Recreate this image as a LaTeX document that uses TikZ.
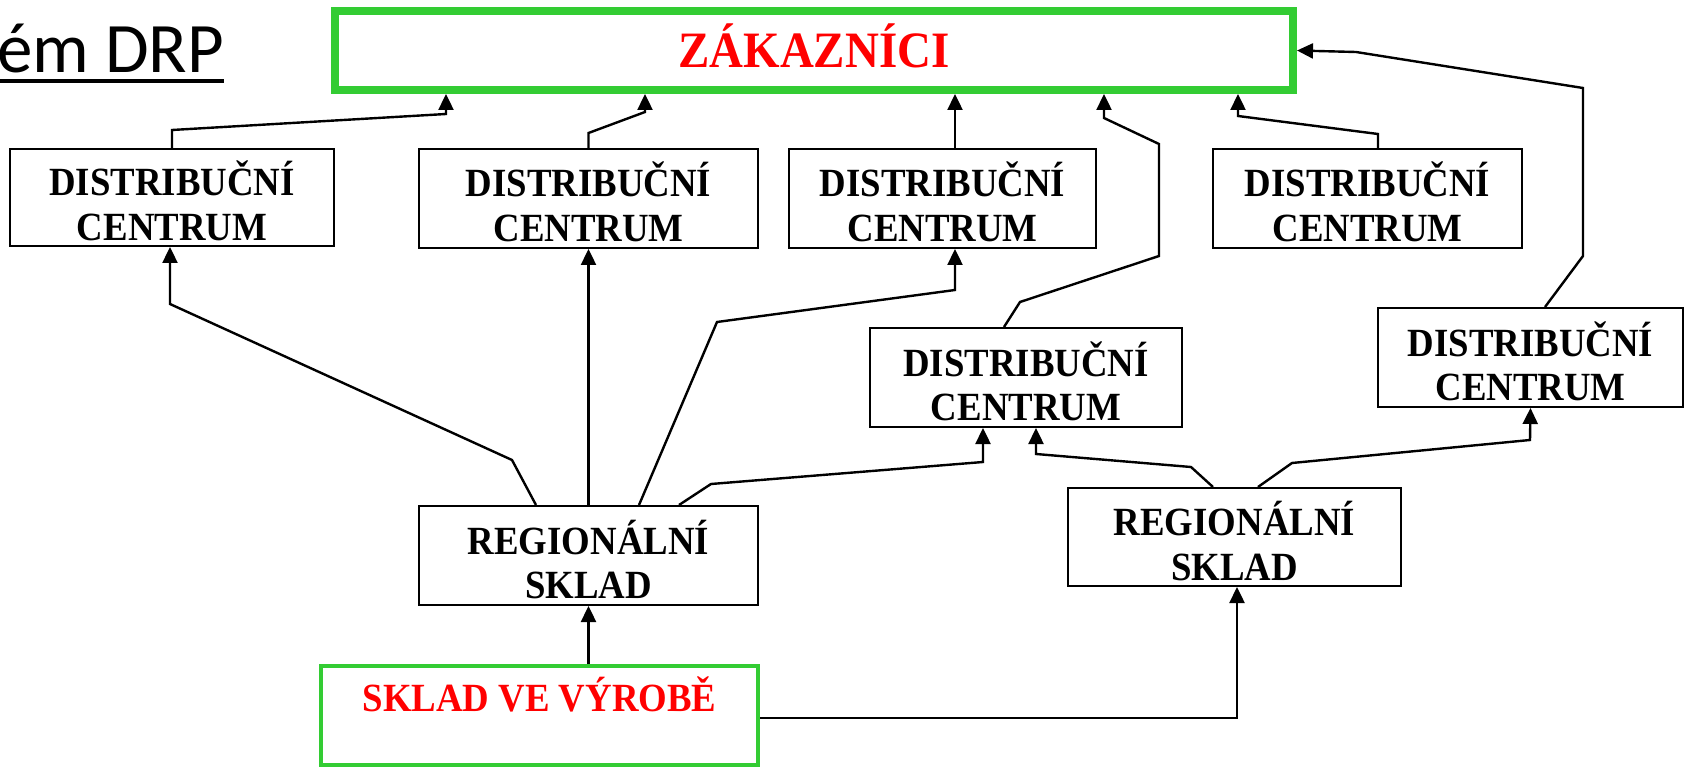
\documentclass[tikz,border=0pt]{standalone}
\usepackage{fontspec}
\setmainfont{Liberation Serif}
\newfontfamily\boxfont[FakeStretch=0.92]{Liberation Serif}
\newfontfamily\titlefont{Carlito}
\usetikzlibrary{arrows.meta}
\definecolor{framegreen}{RGB}{51,204,51}
\definecolor{labelred}{RGB}{255,0,0}

\tikzset{
  unitbox/.style={draw=black, line width=2pt, rectangle, inner sep=0pt, align=center,
    text height=90pt, text depth=4pt,
    font=\boxfont\bfseries\fontsize{40}{44.5}\selectfont},
  greenframe/.style={draw=framegreen, rectangle, inner sep=0pt},
  redlabel/.style={text=labelred, inner sep=0pt, font=\boxfont\bfseries\fontsize{40}{44.5}\selectfont},
  conn/.style={line width=2.4pt, -{Triangle[length=16pt,width=15pt]}},
}

\begin{document}
\begin{tikzpicture}[x=1pt,y=-1pt]
\useasboundingbox (0,0) rectangle (1684,767);

% heading
\node[anchor=base west, inner sep=0pt, font=\titlefont\fontsize{71}{82}\selectfont] (title) at (-3,73) {ém DRP};
\draw[line width=3.5pt] (0,81) -- (title.east |- 0,81);

% customers
\node[greenframe, line width=8pt, minimum width=958pt, minimum height=79pt,
  text=labelred, font=\boxfont\bfseries\fontsize{51}{60}\selectfont,
  text height=34pt, text depth=0pt] (zak) at (814,50.5) {ZÁKAZNÍCI};

% distribution centres
\node[unitbox, minimum width=324pt, minimum height=97pt] (dc1) at (172,197.5) {DISTRIBUČNÍ\\CENTRUM};
\node[unitbox, minimum width=339pt, minimum height=99pt] (dc2) at (588.5,198.5) {DISTRIBUČNÍ\\CENTRUM};
\node[unitbox, minimum width=307pt, minimum height=99pt] (dc3) at (942.5,198.5) {DISTRIBUČNÍ\\CENTRUM};
\node[unitbox, minimum width=309pt, minimum height=99pt] (dc4) at (1367.5,198.5) {DISTRIBUČNÍ\\CENTRUM};
\node[unitbox, minimum width=312pt, minimum height=99pt] (dc5) at (1026,377.5) {DISTRIBUČNÍ\\CENTRUM};
\node[unitbox, minimum width=305pt, minimum height=99pt] (dc6) at (1530.5,357.5) {DISTRIBUČNÍ\\CENTRUM};

% regional warehouses
\node[unitbox, minimum width=339pt, minimum height=99pt] (rs1) at (588.5,555.5) {REGIONÁLNÍ\\SKLAD};
\node[unitbox, minimum width=333pt, minimum height=98pt] (rs2) at (1234.5,537) {REGIONÁLNÍ\\SKLAD};

% factory warehouse
\node[greenframe, line width=4pt, minimum width=437pt, minimum height=99pt] (svv) at (539.5,715.5) {};
\node[redlabel, anchor=base] (svvtext) at (svv.north |- 0,711) {SKLAD VE VÝROBĚ};

% flows to the customers
\draw[conn] (dc1.north) -- (172,130) -- (446,114) -- (446,0 |- zak.south);
\draw[conn] (dc2.north) -- (588.5,133) -- (645,112) -- (645,0 |- zak.south);
\draw[conn] (955,0 |- dc3.north) -- (955,0 |- zak.south);
\draw[conn] (1004,0 |- dc5.north) -- (1020,302) -- (1159,256) -- (1159,144) -- (1104,118) -- (1104,0 |- zak.south);
\draw[conn] (1378,0 |- dc4.north) -- (1378,134) -- (1238,116) -- (1238,0 |- zak.south);
\draw[conn] (1545,0 |- dc6.north) -- (1583,256) -- (1583,88) -- (1356,52) -- (zak.east);

% flows from the regional warehouses
\draw[conn] (536,0 |- rs1.north) -- (512,460) -- (170,304) -- (170,0 |- dc1.south);
\draw[conn] (rs1.north) -- (dc2.south);
\draw[conn] (639,0 |- rs1.north) -- (717,322) -- (955,290) -- (955,0 |- dc3.south);
\draw[conn] (679,0 |- rs1.north) -- (711,484) -- (983,462) -- (983,0 |- dc5.south);
\draw[conn] (1213,0 |- rs2.north) -- (1191,467) -- (1036,454) -- (1036,0 |- dc5.south);
\draw[conn] (1258,0 |- rs2.north) -- (1292,463) -- (1530,440) -- (dc6.south);

% flows from the factory warehouse
\draw[conn] (rs1.south |- svv.north) -- (rs1.south);
\draw[conn] (svv.east |- 0,718) -- (1237,718) -- (1237,0 |- rs2.south);
\end{tikzpicture}
\end{document}
